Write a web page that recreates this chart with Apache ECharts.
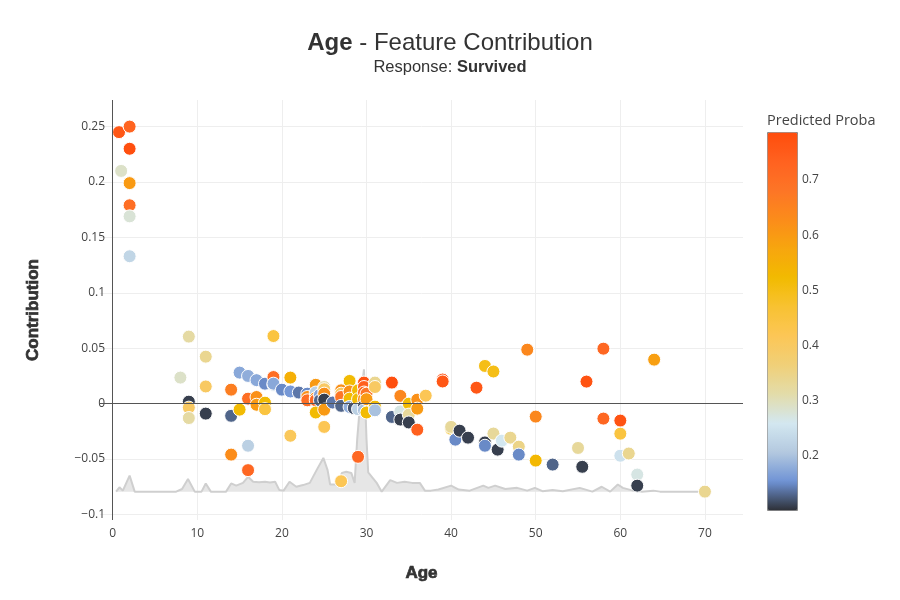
<!DOCTYPE html>
<html>
<head>
<meta charset="utf-8">
<script src="https://cdn.jsdelivr.net/npm/echarts@6/dist/echarts.min.js"></script>
<style>
  html, body { margin: 0; padding: 0; background: #fff; }
</style>
</head>
<body>
<div id="chartContainer" style="width:900px;height:600px;"></div>
<script>
// scatter points: age, contribution, predicted proba
const ages = [
  0.75, 2, 2, 1, 2, 2, 2, 2,
  8, 9, 9, 9, 9, 11, 11, 11,
  14, 14, 14, 15, 15, 16, 16, 16, 16, 17, 17, 17, 18, 18, 18, 19, 19, 19, 19,
  20, 21, 21, 21, 22, 23, 23, 23, 24, 24, 24, 24, 24, 24.5, 24.5,
  25, 25, 25, 25, 25, 25, 26, 27, 27, 27, 27, 27,
  28, 28, 28, 28, 28.5, 29, 29, 29, 29, 29.7, 29.7, 29.7, 29.7, 29.7, 29.7, 30, 30, 30, 31, 31, 31, 31,
  33, 33, 34, 34, 34, 35, 35, 35, 36, 36, 36, 37,
  39, 39, 40, 40, 40.5, 41, 42, 43, 44, 44, 44, 45, 45, 45.5, 46, 47, 48, 48, 49, 50, 50, 52,
  55, 55.5, 56, 58, 58, 60, 60, 60, 61, 62, 62, 64, 70
];
const contribs = [
  0.245, 0.250, 0.230, 0.210, 0.199, 0.179, 0.169, 0.133,
  0.0235, 0.0605, 0.0018, -0.0036, -0.013, 0.0424, 0.0155, -0.009,
  0.0126, -0.011, -0.046, 0.028, -0.0054, 0.025, 0.0045, -0.038, -0.060, 0.0212, 0.006, -0.001, 0.018, 0.0009, -0.005, 0.061, 0.024, 0.017, 0.018,
  0.0126, 0.0235, 0.011, -0.029, 0.010, 0.009, 0.006, 0.003, 0.017, 0.010, 0.005, 0.003, -0.008, 0.008, 0.003,
  0.015, 0.013, 0.009, 0.0036, -0.0054, -0.021, 0.001, 0.012, 0.009, 0.006, -0.002, -0.070,
  0.0205, 0.011, 0.0045, -0.003, -0.004, 0.012, 0.004, -0.005, -0.048, 0.019, 0.015, 0.010, 0.004, -0.002, -0.006, 0.009, 0.004, -0.008, 0.019, 0.015, -0.0027, -0.006,
  0.019, -0.012, 0.007, -0.007, -0.0144, 0.0, -0.0099, -0.017, 0.0036, -0.0045, -0.0235, 0.0072,
  0.0217, 0.0200, -0.0226, -0.021, -0.0325, -0.0244, -0.0307, 0.0144, 0.034, -0.035, -0.038, 0.029, -0.027, -0.0415, -0.0334, -0.0307, -0.0388, -0.046, 0.0487, -0.0117, -0.0514, -0.055,
  -0.040, -0.057, 0.0199, 0.0496, -0.0135, -0.0153, -0.0271, -0.047, -0.045, -0.064, -0.074, 0.0397, -0.0794
];
const probas = [
  0.76, 0.73, 0.78, 0.29, 0.60, 0.70, 0.28, 0.23,
  0.29, 0.32, 0.11, 0.40, 0.32, 0.34, 0.40, 0.11,
  0.66, 0.13, 0.63, 0.175, 0.52, 0.18, 0.70, 0.22, 0.72, 0.175, 0.62, 0.60, 0.15, 0.52, 0.45, 0.45, 0.70, 0.22, 0.175,
  0.15, 0.55, 0.16, 0.41, 0.14, 0.15, 0.62, 0.70, 0.60, 0.22, 0.62, 0.72, 0.52, 0.17, 0.13,
  0.32, 0.40, 0.62, 0.11, 0.60, 0.42, 0.14, 0.62, 0.40, 0.68, 0.13, 0.42,
  0.52, 0.62, 0.52, 0.18, 0.12, 0.52, 0.52, 0.22, 0.72, 0.77, 0.74, 0.70, 0.62, 0.12, 0.20, 0.68, 0.60, 0.52, 0.34, 0.40, 0.52, 0.20,
  0.78, 0.13, 0.64, 0.27, 0.11, 0.52, 0.33, 0.11, 0.62, 0.60, 0.74, 0.42,
  0.77, 0.76, 0.50, 0.33, 0.15, 0.11, 0.11, 0.76, 0.50, 0.11, 0.15, 0.50, 0.33, 0.11, 0.26, 0.34, 0.35, 0.15, 0.64, 0.64, 0.53, 0.13,
  0.33, 0.11, 0.77, 0.72, 0.72, 0.77, 0.45, 0.25, 0.34, 0.27, 0.11, 0.59, 0.34
];

// age distribution drawn along the bottom
const densityAge = [
  0.4, 0.8, 1.2, 2.0, 2.6, 7.5, 8.2, 8.9, 9.7, 10.5, 11.0, 11.6, 13.4, 14.0, 14.6, 15.4, 16.0, 16.6,
  17.3, 18.0, 18.6, 19.2, 19.7, 20.2, 20.9, 21.7, 22.5, 23.3, 24.1, 24.9, 25.4, 25.7, 26.5, 27.1,
  27.6, 28.2, 28.6, 28.9, 29.3, 29.7, 30.0, 30.2, 31.2, 31.8, 32.8, 33.6, 34.5, 35.4, 36.3, 36.9,
  37.6, 38.5, 40.0, 40.9, 42.2, 43.8, 44.4, 45.2, 46.4, 47.8, 49.0, 49.9, 50.8, 52.0, 53.2, 55.2,
  56.7, 57.8, 58.8, 59.7, 60.3, 61.5, 62.5, 63.9, 64.7, 70.0
];
const densityVal = [
  -0.0794, -0.0755, -0.0785, -0.065, -0.0794, -0.0794, -0.077, -0.068, -0.0794, -0.0794, -0.072, -0.0794, -0.0794, -0.072, -0.074, -0.0715, -0.066, -0.0705,
  -0.071, -0.0705, -0.0712, -0.0705, -0.078, -0.0785, -0.0705, -0.075, -0.0735, -0.0715, -0.060, -0.049, -0.060, -0.073, -0.073, -0.0625,
  -0.0615, -0.0625, -0.0715, -0.032, 0.005, 0.031, -0.032, -0.062, -0.0715, -0.0794, -0.069, -0.0715, -0.0705, -0.0715, -0.0715, -0.0785,
  -0.0785, -0.0775, -0.074, -0.0775, -0.0785, -0.074, -0.076, -0.074, -0.077, -0.076, -0.0785, -0.076, -0.079, -0.078, -0.079, -0.076,
  -0.0794, -0.075, -0.0794, -0.073, -0.076, -0.0785, -0.0794, -0.0785, -0.0794, -0.0794
];
const densityBase = -0.0794;

const xTicks = [0, 10, 20, 30, 40, 50, 60, 70];
const yTicks = [-0.1, -0.05, 0, 0.05, 0.1, 0.15, 0.2, 0.25];
const probaTicks = [0.2, 0.3, 0.4, 0.5, 0.6, 0.7];
const probaMin = 0.102, probaMax = 0.787;

const colorScale = ['#2d3036', '#6f93d5', '#b3c9df', '#d3e7f0', '#e3dcaa', '#f0d078', '#fcc656',
  '#f8c232', '#f2ba00', '#f7a60e', '#fb8c1a', '#fd7526', '#ff6220', '#ff4c0c'];

const points = ages.map((a, i) => [a, contribs[i], probas[i]]);
const density = densityAge.map((a, i) => [a, densityVal[i]]);

const chartContainer = document.getElementById('chartContainer');
const mychart = echarts.init(chartContainer);

const tickFont = { fontFamily: '"Open Sans", sans-serif', fontSize: 12, color: '#444' };
const minusFmt = v => String(Math.round(v * 1000) / 1000).replace('-', '\u2212');
// heavy look for the axis titles
const axisTitle = {
  fontFamily: '"Liberation Sans", Arial, sans-serif', fontSize: 17, fontWeight: 900, color: '#333',
  textBorderColor: '#333', textBorderWidth: 0.7
};

const option = {
  animation: false,
  backgroundColor: '#fff',
  title: [
    {
      left: 'center',
      top: 26,
      text: '{b|Age} - Feature Contribution',
      textStyle: {
        fontFamily: '"Liberation Sans", Arial, sans-serif', fontSize: 24, fontWeight: 'normal', color: '#333',
        rich: { b: { fontFamily: '"Liberation Sans", Arial, sans-serif', fontSize: 24, fontWeight: 'bold', color: '#333' } }
      },
      subtext: 'Response: {b|Survived}',
      itemGap: 4,
      subtextStyle: {
        fontFamily: '"Liberation Sans", Arial, sans-serif', fontSize: 16.5, color: '#333',
        rich: { b: { fontFamily: '"Liberation Sans", Arial, sans-serif', fontSize: 16.5, fontWeight: 'bold', color: '#333' } }
      }
    },
    {
      left: 762,
      top: 108,
      text: 'Predicted Proba',
      textStyle: { fontFamily: '"Open Sans", sans-serif', fontSize: 14.5, fontWeight: 'normal', color: '#444' }
    }
  ],
  grid: [
    { left: 100, right: 157, top: 100, bottom: 80 },
    { left: 767, top: 132, width: 30, height: 378 }
  ],
  xAxis: [
    {
      type: 'value', gridIndex: 0, min: -1.5, max: 74.5,
      name: 'Age', nameLocation: 'middle', nameGap: 45,
      nameTextStyle: axisTitle,
      axisLine: { show: false },
      axisTick: { show: false, customValues: xTicks },
      axisLabel: { ...tickFont, margin: 8, customValues: xTicks },
      splitLine: { show: true, lineStyle: { color: '#eee', width: 1 } }
    },
    { type: 'value', gridIndex: 1, min: 0, max: 1, show: false }
  ],
  yAxis: [
    {
      type: 'value', gridIndex: 0, min: -0.105, max: 0.274,
      name: 'Contribution', nameLocation: 'middle', nameGap: 58,
      nameTextStyle: axisTitle,
      axisLine: { show: false },
      axisTick: { show: false, customValues: yTicks },
      axisLabel: { ...tickFont, margin: -5, customValues: yTicks, formatter: minusFmt },
      splitLine: { show: true, lineStyle: { color: '#eee', width: 1 } }
    },
    {
      type: 'value', gridIndex: 1, position: 'right', min: probaMin, max: probaMax,
      axisLine: { show: false },
      axisTick: { show: false, customValues: probaTicks },
      axisLabel: { ...tickFont, margin: 5, customValues: probaTicks },
      splitLine: { show: false }
    }
  ],
  visualMap: {
    type: 'continuous',
    seriesIndex: 0,
    dimension: 2,
    min: probaMin,
    max: probaMax,
    calculable: false,
    orient: 'vertical',
    left: 767,
    top: 132,
    itemWidth: 30,
    itemHeight: 378,
    padding: 0,
    text: null,
    showLabel: false,
    borderColor: '#888',
    borderWidth: 1,
    inRange: { color: colorScale }
  },
  series: [
    {
      // the colored points
      type: 'scatter',
      xAxisIndex: 0, yAxisIndex: 0,
      z: 3,
      data: points,
      symbolSize: 13,
      itemStyle: { borderColor: '#fff', borderWidth: 1, opacity: 1 }
    },
    {
      // age distribution + zero lines
      type: 'line',
      xAxisIndex: 0, yAxisIndex: 0,
      z: 1,
      data: density,
      symbol: 'none',
      silent: true,
      lineStyle: { color: '#cfcfcf', width: 2 },
      areaStyle: { color: '#e6e6e6', opacity: 1, origin: densityBase },
      markLine: {
        silent: true,
        symbol: 'none',
        label: { show: false },
        lineStyle: { color: '#555', width: 1, type: 'solid' },
        data: [{ xAxis: 0 }, { yAxis: 0 }]
      }
    }
  ]
};

mychart.setOption(option);
</script>
</body>
</html>
